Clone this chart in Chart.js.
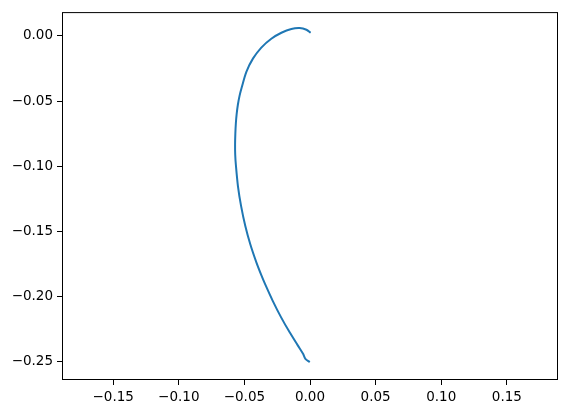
<!DOCTYPE html>
<html>
<head>
<meta charset="utf-8">
<script src="https://cdn.jsdelivr.net/npm/chart.js@4/dist/chart.umd.min.js"></script>
<style>
  html, body { margin: 0; padding: 0; background: #fff; }
  #wrap { width: 568px; height: 413px; }
</style>
</head>
<body>
<div id="wrap"><canvas id="myChart" width="568" height="413"></canvas></div>
<script>
// curve points
var xValues = [0.0005, -0.0027, -0.0079, -0.0142, -0.0218, -0.0295, -0.0371, -0.0435, -0.0485, -0.0519,
  -0.0537, -0.0550, -0.0559, -0.0565, -0.0569, -0.0571, -0.0570, -0.0565, -0.0549, -0.0525,
  -0.0493, -0.0455, -0.0408, -0.0371, -0.0342, -0.0284, -0.0220, -0.0155, -0.0092, -0.0053,
  -0.0035, -0.0002];
var yValues = [0.0025, 0.0048, 0.0061, 0.0054, 0.0025, -0.0021, -0.0089, -0.0174, -0.0275, -0.0390,
  -0.0460, -0.0530, -0.0600, -0.0670, -0.0750, -0.0836, -0.0910, -0.0989, -0.1154, -0.1307,
  -0.1460, -0.1600, -0.1741, -0.1837, -0.1906, -0.2034, -0.2161, -0.2276, -0.2378, -0.2441,
  -0.2479, -0.2505];
var xTicks = [-0.15, -0.10, -0.05, 0.00, 0.05, 0.10, 0.15];
var yTicks = [0.00, -0.05, -0.10, -0.15, -0.20, -0.25];

var points = [];
for (var i = 0; i < xValues.length; i++) {
  points.push({ x: xValues[i], y: yValues[i] });
}

function fmt(v) {
  var s = v.toFixed(2);
  if (s === "-0.00") s = "0.00";
  return s.replace("-", "\u2212");
}

var frame = {
  id: "frame",
  afterDraw: function(chart) {
    var a = chart.chartArea;
    var ctx = chart.ctx;
    ctx.save();
    ctx.strokeStyle = "#000";
    ctx.lineWidth = 1;
    ctx.strokeRect(a.left + 0.5, a.top + 0.5, a.right - a.left - 1, a.bottom - a.top - 1);
    ctx.restore();
  }
};

var tickFont = { family: "DejaVu Sans", size: 13.5 };

var myChart = new Chart(document.getElementById("myChart"), {
  type: "scatter",
  data: {
    datasets: [{
      data: points,
      showLine: true,
      borderColor: "#1f77b4",
      borderWidth: 2,
      pointRadius: 0,
      tension: 0.3,
      fill: false
    }]
  },
  options: {
    responsive: false,
    animation: false,
    devicePixelRatio: 1,
    layout: { padding: { top: 10, right: 10, left: 0, bottom: 0 } },
    plugins: { legend: { display: false }, tooltip: { enabled: false } },
    scales: {
      x: {
        type: "linear",
        min: -0.189,
        max: 0.189,
        border: { display: false },
        grid: { display: true, drawOnChartArea: false, drawTicks: true, tickLength: 5, color: "#000", lineWidth: 1 },
        ticks: { color: "#000", font: tickFont, padding: 4, maxRotation: 0, callback: function(v) { return fmt(v); } },
        afterBuildTicks: function(scale) {
          scale.ticks = xTicks.map(function(v) { return { value: v }; });
        },
        afterFit: function(scale) { scale.height = 33; }
      },
      y: {
        type: "linear",
        min: -0.2642,
        max: 0.01835,
        border: { display: false },
        grid: { display: true, drawOnChartArea: false, drawTicks: true, tickLength: 5, color: "#000", lineWidth: 1 },
        ticks: { color: "#000", font: tickFont, padding: 4, callback: function(v) { return fmt(v); } },
        afterBuildTicks: function(scale) {
          scale.ticks = yTicks.map(function(v) { return { value: v }; });
        },
        afterFit: function(scale) { scale.width = 62; }
      }
    }
  },
  plugins: [frame]
});
</script>
</body>
</html>
